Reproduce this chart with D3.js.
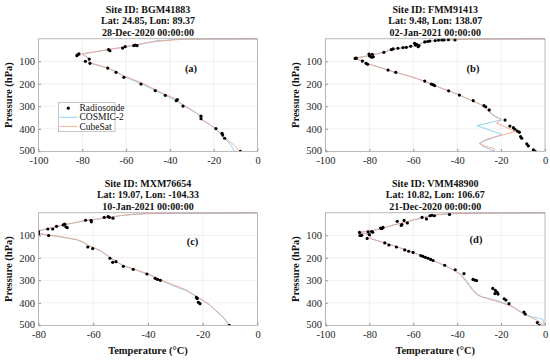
<!DOCTYPE html>
<html>
<head>
<meta charset="utf-8">
<script src="https://cdn.jsdelivr.net/npm/d3@7"></script>
<style>
body{margin:0;background:#fff;}
svg{display:block;}
svg text{font-family:"Liberation Serif","Times New Roman",serif;}
</style>
</head>
<body>
<svg width="550" height="361"></svg>
<script>
// titles
let titleA = ['Site ID: BGM41883', 'Lat: 24.85, Lon: 89.37', '28-Dec-2020 00:00:00'];
let titleB = ['Site ID: FMM91413', 'Lat: 9.48, Lon: 138.07', '02-Jan-2021 00:00:00'];
let titleC = ['Site ID: MXM76654', 'Lat: 19.07, Lon: -104.33', '10-Jan-2021 00:00:00'];
let titleD = ['Site ID: VMM48900', 'Lat: 10.82, Lon: 106.67', '21-Dec-2020 00:00:00'];

let seriesNames = ['Radiosonde', 'COSMIC-2', 'CubeSat'];
let pressureTicks = [100, 200, 300, 400, 500];

// [temperature (°C), pressure (hPa)]
let sondeA = [[-82.5,75],[-82,70],[-81.5,67],[-78.6,100],[-76.8,90],[-76.5,109],[-68.4,130],[-64.6,149],[-61,171],
  [-53.2,201],[-46.7,230],[-42.1,251],[-37.1,275],[-36.6,270],[-34,299],[-25.8,344],[-25.8,355],[-19,399],
  [-16.2,420],[-15.9,428],[-15,442],[-7.8,500],[-68,48],[-67.4,53],[-61.6,41],[-60.4,35],[-56.5,30],[-55.8,28],[-55,30]];
let cosmicA = [[0,0.8],[-20,1.2],[-30,1.5],[-38,3],[-43,8],[-46,8],[-50,18],[-55,27],[-60,35],[-63,40],[-68,48],
  [-74,58],[-80,67],[-78,80],[-77,95],[-76.5,108],[-72,120],[-68.5,130],[-64.5,148],[-61,168],[-53.5,198],
  [-47,228],[-42.5,250],[-37.5,272],[-34,296],[-30,318],[-26.5,340],[-26,350],[-25.5,358],[-22,380],[-19.5,398],
  [-15.5,435],[-12,475],[-10.5,500]];
let cubeA = [[0,0.5],[-20,0.8],[-33,1.5],[-38,5],[-44,10],[-50,16],[-55,26],[-60,34],[-63,40],[-68,47],
  [-74,57],[-80,67],[-78,80],[-77,95],[-76.5,107],[-72,119],[-68.5,129],[-64.5,146],[-61,165],[-53,195],
  [-46.5,226],[-42,248],[-37,268],[-34,294],[-30,316],[-26,342],[-25.5,360],[-22,380],[-19,400],
  [-15,440],[-11,470],[-8,500]];

let sondeB = [[-4.5,500],[-5.3,494],[-7.6,476],[-8.3,467],[-10.6,442],[-11.1,435],[-11.7,415],[-12.6,410],
  [-13.7,402],[-14.4,395],[-16,388],[-18.2,361],[-25.4,316],[-27,302],[-27.8,297],[-32.7,275],[-39,250],
  [-43.9,231],[-50.3,208],[-51,204],[-51.8,201],[-54.8,188],[-68,149],[-71.5,139],[-80.8,113],[-81.5,109],
  [-83.2,99],[-86,86],[-86.5,87],[-80.2,68],[-79.9,76],[-79,82],[-78.7,69],[-78.2,80],[-73.4,60],[-70,48],
  [-69.2,45],[-67,42],[-64.7,39],[-63.2,38],[-61.2,33],[-59.4,20],[-59,28],[-58.5,25],[-57.8,35],[-57.4,30],
  [-54.8,14],[-53.5,12],[-52.5,10],[-50,8],[-48.5,5.5],[-47,5],[-46,5],[-44,4],[-41,5]];
let cosmicB = [[0,0.5],[-20,1],[-35,2],[-42,4],[-47,5.5],[-52,10],[-55,15],[-57.5,25],[-60,32],[-63,38],
  [-67,43],[-70,48],[-73.5,60],[-79,72],[-86.5,87],[-83,99],[-81,110],[-75,128],[-71.5,139],[-68,150],
  [-62,165],[-55,188],[-51,204],[-47,220],[-44,231],[-39,250],[-33,276],[-28,298],[-26,320],[-23,345],
  [-19.7,360],[-31,386],[-19.7,425],[-29.5,462],[-28.5,476],[-26,488],[-23,500]];
let cubeB = [[0,0.5],[-20,1],[-35,2],[-42,4],[-47,5.5],[-52,10],[-55,15],[-57.5,25],[-60,32],[-63,38],
  [-67,43],[-70,48],[-73.5,60],[-79,72],[-86.5,87],[-83,99],[-81,110],[-75,128],[-71.5,139],[-68,150],
  [-62,165],[-55,188],[-51,204],[-47,220],[-44,231],[-39,250],[-33,276],[-28,298],[-26,320],[-22.5,345],
  [-20,358],[-22,375],[-15,405],[-13.5,412],[-27,448],[-30,466],[-27,478],[-23,488],[-23.5,500]];

let sondeC = [[-80,84],[-80,94],[-76.6,72],[-74.8,72],[-73.4,60],[-71,54],[-70.4,50],[-70,62],[-69.5,66],
  [-62.8,33],[-60.8,33],[-60.7,40],[-56,20],[-54.6,17],[-54.1,20],[-52.8,24],[-76.3,101],[-62,152],
  [-60.2,159],[-53.9,202],[-52.9,220],[-51.7,217],[-49,238],[-45.4,251],[-40.4,272],[-37.4,291],[-36.5,296],
  [-35.5,300],[-22.3,376],[-22,381],[-21.6,398],[-21,404],[-10.3,500]];
let cosmicC = [[0,0.8],[-20,2.5],[-30,2.5],[-40,4],[-46,8],[-50,13],[-53,19],[-56,24],[-60,31],[-63,35],
  [-67,45],[-71,55],[-74,64],[-77,72],[-80,81],[-83,88],[-80,93],[-76,100],[-72,107],[-66,120],[-64,130],
  [-62,145],[-60,155],[-57,172],[-54,198],[-52,215],[-49,236],[-45,252],[-40,274],[-36,297],[-31,323],
  [-26,346],[-22.5,372],[-20,390],[-17.5,410],[-13.5,455],[-12,472],[-10.5,500]];
let cubeC = [[0,0.5],[-20,1],[-30,1.5],[-40,3],[-46,7],[-50,12],[-53,18],[-56,23],[-60,30],[-63,34],
  [-67,44],[-71,54],[-74,63],[-77,71],[-80,80],[-83,88],[-80,92],[-76,99],[-72,106],[-66,119],[-64,128],
  [-62,143],[-60,153],[-57,170],[-54,196],[-52,213],[-49,234],[-45,250],[-40,271],[-36,294],[-31,319],
  [-26,343],[-22.5,369],[-20,388],[-17.5,408],[-13.5,452],[-12,470],[-10.3,500]];

let sondeD = [[-3.5,488],[-2.6,500],[-9.6,441],[-9,450],[-18.6,382],[-17.8,388],[-16.4,404],[-23.8,336],
  [-22.6,345],[-21.8,353],[-22.8,359],[-21.4,361],[-32.8,296],[-32,299],[-31.2,301],[-36.9,270],[-40.9,253],
  [-45.7,233],[-51,212],[-52.1,207],[-53.3,202],[-54.5,198],[-55.6,194],[-56.6,190],[-60.1,176],[-62.1,171],
  [-63.9,165],[-67.7,152],[-71.1,143],[-73,134],[-81,114],[-84.5,87],[-84.3,101],[-83.5,100],[-80.6,85],
  [-80,97],[-79,83],[-78.5,86],[-74.9,68],[-73.8,65],[-74.3,70],[-67.3,38],[-65.5,56],[-65.2,52],[-64.2,34],
  [-62.7,45],[-56,20],[-54,27],[-52.4,13],[-51.5,11],[-50.4,13],[-43.5,7]];
let cosmicD = [[0,1],[-20,1.5],[-35,2.5],[-42,4],[-48,8],[-51,12],[-54,18],[-56,24],[-60,32],[-63,42],
  [-67,50],[-71,60],[-74,70],[-78,78],[-85,88],[-80.5,95],[-79.8,105],[-79.5,114],[-76.5,124],[-73,134],
  [-67.7,150],[-64,163],[-60,176],[-56.6,190],[-51,212],[-46,233],[-41.5,255],[-38,275],[-35.5,305],
  [-33,340],[-31,360],[-29,372],[-26,380],[-21,393],[-15,415],[-10,447],[-6,463],[-3,468],[-1,474],[-0.3,500]];
let cubeD = [[0,0.6],[-20,1],[-35,2],[-42,3.5],[-48,7],[-51,11],[-54,17],[-56,23],[-60,31],[-63,41],
  [-67,49],[-71,59],[-74,69],[-78,77],[-85,88],[-80.5,95],[-79.8,105],[-79.5,114],[-76.5,124],[-73,134],
  [-67.7,150],[-64,163],[-60,176],[-56.6,190],[-51,212],[-46,233],[-41.5,255],[-38.5,276],[-36,305],
  [-33.5,338],[-31.5,360],[-29.5,372],[-26.5,381],[-21.5,395],[-15,417],[-10,449],[-6,467],[-3.5,478],
  [-1.5,490],[-1.2,500]];

let cosmicColor = '#86cbee';
let cubeColor = '#f6a48c';

let svg = d3.select('svg');

let panels = [
  {id:'a', x0:38.5, x1:257.5, y0:38.8, y1:151.3, xmin:-100, title:titleA, sonde:sondeA, cosmic:cosmicA, cube:cubeA, tagX:191, tagY:72, legend:true, xlabel:false},
  {id:'b', x0:325.5, x1:545, y0:38.8, y1:151.3, xmin:-100, title:titleB, sonde:sondeB, cosmic:cosmicB, cube:cubeB, tagX:473, tagY:72, legend:false, xlabel:false},
  {id:'c', x0:38.5, x1:257.5, y0:212.8, y1:325.3, xmin:-80, title:titleC, sonde:sondeC, cosmic:cosmicC, cube:cubeC, tagX:192.5, tagY:245, legend:false, xlabel:true},
  {id:'d', x0:325.5, x1:545, y0:212.8, y1:325.3, xmin:-100, title:titleD, sonde:sondeD, cosmic:cosmicD, cube:cubeD, tagX:476, tagY:243, legend:false, xlabel:true}
];

let drawPanel = (p) => {
  let x = d3.scaleLinear().domain([p.xmin, 0]).range([p.x0, p.x1]);
  let y = d3.scaleLinear().domain([0, 500]).range([p.y0, p.y1]);
  let xTicks = d3.range(p.xmin, 1, 20);
  let g = svg.append('g');

  g.append('rect')
    .attr('x', p.x0).attr('y', p.y0)
    .attr('width', p.x1 - p.x0).attr('height', p.y1 - p.y0)
    .attr('fill', '#fff');

  /*grid lines*/
  g.selectAll('.gx').data(xTicks.slice(1, -1)).enter().append('line')
    .attr('x1', d => x(d)).attr('x2', d => x(d))
    .attr('y1', p.y0).attr('y2', p.y1)
    .attr('stroke', '#e4e4e4').attr('stroke-width', 0.6);
  g.selectAll('.gy').data(pressureTicks.slice(0, -1)).enter().append('line')
    .attr('x1', p.x0).attr('x2', p.x1)
    .attr('y1', d => y(d)).attr('y2', d => y(d))
    .attr('stroke', '#e4e4e4').attr('stroke-width', 0.6);

  /*axes*/
  let xAxis = d3.axisBottom(x).tickValues(xTicks).tickSize(-2.5).tickPadding(5).tickFormat(d => String(d));
  let yAxis = d3.axisLeft(y).tickValues(pressureTicks).tickSize(-2.5).tickPadding(3.5).tickFormat(d => String(d));
  let gx = g.append('g').attr('transform', 'translate(0,' + p.y1 + ')').call(xAxis);
  let gy = g.append('g').attr('transform', 'translate(' + p.x0 + ',0)').call(yAxis);
  [gx, gy].forEach(a => {
    a.attr('font-family', null).attr('font-size', null);
    a.select('.domain').remove();
    a.selectAll('line').attr('stroke', '#555').attr('stroke-width', 0.6);
    a.selectAll('text').style('font-size', '10.5px').attr('fill', '#262626');
  });
  /*lift the bottom pressure label a little so it clears the first temperature label*/
  gy.selectAll('text').filter(d => d === 500).attr('dy', '0.2em');

  /*profiles*/
  let clipId = 'clip-' + p.id;
  svg.append('clipPath').attr('id', clipId).append('rect')
    .attr('x', p.x0).attr('y', p.y0 - 0.5)
    .attr('width', p.x1 - p.x0).attr('height', p.y1 - p.y0 + 0.5);
  let line = d3.line().x(d => x(d[0])).y(d => y(d[1]));
  let lines = g.append('g').attr('clip-path', 'url(#' + clipId + ')');
  lines.append('path').datum(p.cosmic).attr('d', line)
    .attr('fill', 'none').attr('stroke', cosmicColor).attr('stroke-width', 0.9);
  lines.append('path').datum(p.cube).attr('d', line)
    .attr('fill', 'none').attr('stroke', cubeColor).attr('stroke-width', 0.9);
  lines.selectAll('circle').data(p.sonde).enter().append('circle')
    .attr('cx', d => x(d[0])).attr('cy', d => y(d[1]))
    .attr('r', 1.6).attr('fill', '#000');

  /*frame*/
  g.append('rect')
    .attr('x', p.x0).attr('y', p.y0)
    .attr('width', p.x1 - p.x0).attr('height', p.y1 - p.y0)
    .attr('fill', 'none').attr('stroke', '#9a9a9a').attr('stroke-width', 0.7);

  /*title*/
  let cx = (p.x0 + p.x1) / 2;
  p.title.forEach((t, i) => {
    g.append('text').attr('x', cx).attr('y', p.y0 - 26.3 + i * 11.6)
      .attr('text-anchor', 'middle').style('font-size', '10px').attr('font-weight', 'bold')
      .attr('fill', '#111').text(t);
  });

  /*panel tag*/
  g.append('text').attr('x', p.tagX).attr('y', p.tagY)
    .attr('text-anchor', 'middle').style('font-size', '10.5px').attr('font-weight', 'bold')
    .attr('fill', '#111').text('(' + p.id + ')');

  /*y label*/
  let ylx = p.x0 - 27, yly = (p.y0 + p.y1) / 2;
  g.append('text').attr('transform', 'translate(' + ylx + ',' + yly + ') rotate(-90)')
    .attr('text-anchor', 'middle').style('font-size', '10.5px').attr('font-weight', 'bold')
    .attr('fill', '#111').text('Pressure (hPa)');

  if (p.xlabel) {
    g.append('text').attr('x', cx).attr('y', p.y1 + 29)
      .attr('text-anchor', 'middle').style('font-size', '10.5px').attr('font-weight', 'bold')
      .attr('fill', '#111').text('Temperature (°C)');
  }

  if (p.legend) {
    let lg = g.append('g');
    lg.append('rect').attr('x', 58.3).attr('y', 102.7).attr('width', 56.7).attr('height', 29)
      .attr('fill', '#fff').attr('stroke', '#a0a0a0').attr('stroke-width', 0.6);
    let rows = [108.2, 117.3, 126.4];
    lg.append('circle').attr('cx', 68.3).attr('cy', rows[0]).attr('r', 1.6).attr('fill', '#000');
    lg.append('line').attr('x1', 59.5).attr('x2', 77.5).attr('y1', rows[1]).attr('y2', rows[1])
      .attr('stroke', cosmicColor).attr('stroke-width', 0.9);
    lg.append('line').attr('x1', 59.5).attr('x2', 77.5).attr('y1', rows[2]).attr('y2', rows[2])
      .attr('stroke', cubeColor).attr('stroke-width', 0.9);
    seriesNames.forEach((n, i) => {
      lg.append('text').attr('x', 79.5).attr('y', rows[i]).attr('dy', '0.33em')
        .style('font-size', '9.5px').attr('fill', '#111').text(n);
    });
  }
};

panels.forEach(drawPanel);
</script>
</body>
</html>
